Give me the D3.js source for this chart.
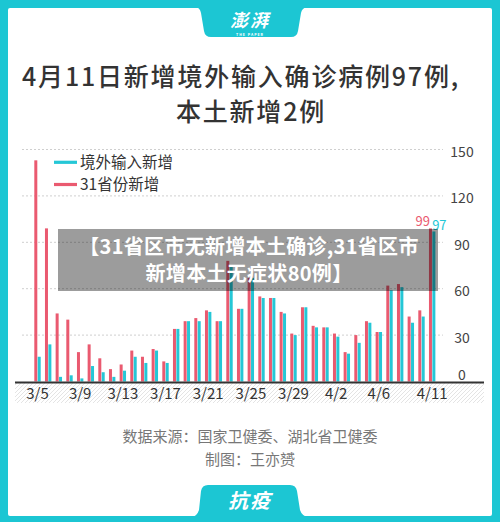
<!DOCTYPE html>
<html><head><meta charset="utf-8">
<script src="https://cdn.jsdelivr.net/npm/d3@7"></script>
<style>html,body{margin:0;padding:0;background:#1cc6d3;}svg{display:block;}</style>
</head><body>
<script>
const dates = ["3/5","3/6","3/7","3/8","3/9","3/10","3/11","3/12","3/13","3/14","3/15","3/16","3/17","3/18","3/19","3/20","3/21","3/22","3/23","3/24","3/25","3/26","3/27","3/28","3/29","3/30","3/31","4/1","4/2","4/3","4/4","4/5","4/6","4/7","4/8","4/9","4/10","4/11"];
const imported = [16,24,3,4,2,10,6,3,7,16,12,20,12,34,39,39,45,39,74,47,67,54,54,44,30,48,35,35,29,18,25,38,32,59,61,38,42,97];
const total = [143,99,44,40,19,24,15,8,11,20,16,21,13,34,39,41,46,39,78,47,67,55,54,45,31,48,36,35,31,19,30,39,32,62,63,42,46,99];
const xTickLabels = ["3/5","3/9","3/13","3/17","3/21","3/25","3/29","4/2","4/6","4/11"];
const yTicks = [0,30,60,90,120,150];
const seriesNames = ["境外输入新增","31省份新增"];
const titleLines = ["4月11日新增境外输入确诊病例97例,","本土新增2例"];
const overlayLines = ["【31省区市无新增本土确诊,31省区市","新增本土无症状80例】"];
const footerLines = ["数据来源：国家卫健委、湖北省卫健委","制图：王亦赟"];

const W = 500, H = 522;
const CYAN = "#1cc6d3", BAR_C = "#25c7d6", BAR_P = "#ea5a70";
const FONT = "'Noto Sans CJK SC','Noto Sans',sans-serif";

const svg = d3.select("body").append("svg").attr("width", W).attr("height", H)
  .style("font-family", FONT);

const defs = svg.append("defs");
const pat = defs.append("pattern").attr("id","hatch").attr("patternUnits","userSpaceOnUse")
  .attr("width",4).attr("height",4);
pat.append("rect").attr("width",4).attr("height",4).attr("fill","#fff");
pat.append("path").attr("d","M-1,1 l2,-2 M0,4 l4,-4 M3,5 l2,-2").attr("stroke","#e4e4e4").attr("stroke-width",1);

// frame
svg.append("rect").attr("width",W).attr("height",H).attr("fill",CYAN);
svg.append("rect").attr("x",8).attr("y",8).attr("width",484).attr("height",508).attr("rx",2).attr("fill","#fff");

// top tab
svg.append("path").attr("fill",CYAN)
  .attr("d","M196,7 L307,7 Q302,8 301,13 L298,31 Q297,37 291,37 L211,37 Q205,37 204,31 L201,13 Q200,8 196,7 Z");
svg.append("text").attr("x",250).attr("y",27).attr("text-anchor","middle")
  .attr("fill","#fff").attr("font-size",18).attr("font-weight","bold").attr("font-style","italic")
  .attr("letter-spacing",2).text("澎湃");
svg.append("text").attr("x",250).attr("y",35.5).attr("text-anchor","middle")
  .attr("fill","#fff").attr("font-size",3.5).attr("font-weight","bold").attr("letter-spacing",1).text("THE PAPER");

// bottom tab
svg.append("path").attr("fill",CYAN)
  .attr("d","M192,517 L308,517 Q302,516 300,510 L297,491 Q296,485 290,485 L208,485 Q202,485 201,491 L199,510 Q197,516 192,517 Z");
svg.append("text").attr("x",250).attr("y",508).attr("text-anchor","middle")
  .attr("fill","#fff").attr("font-size",20).attr("font-weight","bold").attr("font-style","italic")
  .attr("letter-spacing",2).text("抗疫");

// title
svg.append("text").attr("x",241).attr("y",86).attr("text-anchor","middle").attr("fill","#333")
  .attr("font-size",25).attr("font-weight",500).attr("letter-spacing",1.8).text(titleLines[0]);
svg.append("text").attr("x",251).attr("y",121).attr("text-anchor","middle").attr("fill","#333")
  .attr("font-size",25).attr("font-weight",500).attr("letter-spacing",1.8).text(titleLines[1]);

// scales
const x = d3.scaleBand().domain(dates).range([28.97, 440.7]).paddingInner(0.4).paddingOuter(0.5);
const y = d3.scaleLinear().domain([0,150]).range([381.5,149.5]);
const bw = x.bandwidth();

// hatch band under axis
svg.append("rect").attr("x",15).attr("y",382).attr("width",469).attr("height",21).attr("fill","url(#hatch)");

// gridlines
svg.append("g").selectAll("line").data(yTicks.filter(d=>d>0)).join("line")
  .attr("x1",22).attr("x2",443).attr("y1",d=>y(d)).attr("y2",d=>y(d))
  .attr("stroke","#cfcfcf").attr("stroke-width",1).attr("stroke-dasharray","2,2");

// right axis labels
const yAxis = svg.append("g").attr("transform","translate(462,0)")
  .call(d3.axisRight(y).tickValues(yTicks).tickSize(0).tickPadding(0));
yAxis.select(".domain").remove();
yAxis.selectAll("text").attr("text-anchor","middle").attr("fill","#444")
  .attr("font-size",14).attr("font-family",FONT)
  .attr("dy", d => d === 0 ? "-0.15em" : "0.5em");

// bars
const gb = svg.append("g");
gb.selectAll("rect.p").data(dates).join("rect").attr("class","p")
  .attr("x",d=>x(d)).attr("width",bw/2-0.2)
  .attr("y",(d,i)=>y(total[i])).attr("height",(d,i)=>y(0)-y(total[i])).attr("fill",BAR_P);
gb.selectAll("rect.c").data(dates).join("rect").attr("class","c")
  .attr("x",d=>x(d)+bw/2+0.2).attr("width",bw/2-0.2)
  .attr("y",(d,i)=>y(imported[i])).attr("height",(d,i)=>y(0)-y(imported[i])).attr("fill",BAR_C);

// baseline
svg.append("line").attr("x1",15).attr("x2",484).attr("y1",382.5).attr("y2",382.5)
  .attr("stroke","#333").attr("stroke-width",2);

// x axis labels
const xAxis = svg.append("g").attr("transform","translate(0,388)")
  .call(d3.axisBottom(x).tickValues(xTickLabels).tickSize(0).tickPadding(0));
xAxis.select(".domain").remove();
xAxis.selectAll("text").attr("fill","#333").attr("font-size",15).attr("font-family",FONT)
  .attr("dy","0.71em");

// value labels on last day
const last = dates.length-1;
svg.append("text").attr("x",x(dates[last])+1).attr("y",y(total[last])-2).attr("text-anchor","end")
  .attr("fill",BAR_P).attr("font-size",13).text(total[last]);
svg.append("text").attr("x",x(dates[last])+bw/2).attr("y",y(imported[last])-1).attr("text-anchor","start")
  .attr("fill",BAR_C).attr("font-size",13).text(imported[last]);

// legend
const leg = svg.append("g");
[[BAR_C,seriesNames[0],162.3],[BAR_P,seriesNames[1],184.5]].forEach(([c,t,yy])=>{
  leg.append("line").attr("x1",54).attr("x2",77).attr("y1",yy).attr("y2",yy).attr("stroke",c).attr("stroke-width",3.2);
  leg.append("text").attr("x",80).attr("y",yy).attr("dy","0.36em").attr("fill","#333").attr("font-size",15.5).text(t);
});

// overlay
svg.append("rect").attr("x",58).attr("y",229).attr("width",380).attr("height",62).attr("fill","rgba(0,0,0,0.39)");
svg.append("text").attr("x",249).attr("y",253.5).attr("text-anchor","middle").attr("fill","#fff")
  .attr("font-size",20).attr("font-weight","bold").attr("letter-spacing",0.3).text(overlayLines[0]);
svg.append("text").attr("x",249).attr("y",281).attr("text-anchor","middle").attr("fill","#fff")
  .attr("font-size",20).attr("font-weight","bold").attr("letter-spacing",0.3).text(overlayLines[1]);

// footer
svg.append("text").attr("x",250).attr("y",442).attr("text-anchor","middle").attr("fill","#777")
  .attr("font-size",15).text(footerLines[0]);
svg.append("text").attr("x",250).attr("y",464.5).attr("text-anchor","middle").attr("fill","#777")
  .attr("font-size",15).text(footerLines[1]);
</script>
</body></html>
